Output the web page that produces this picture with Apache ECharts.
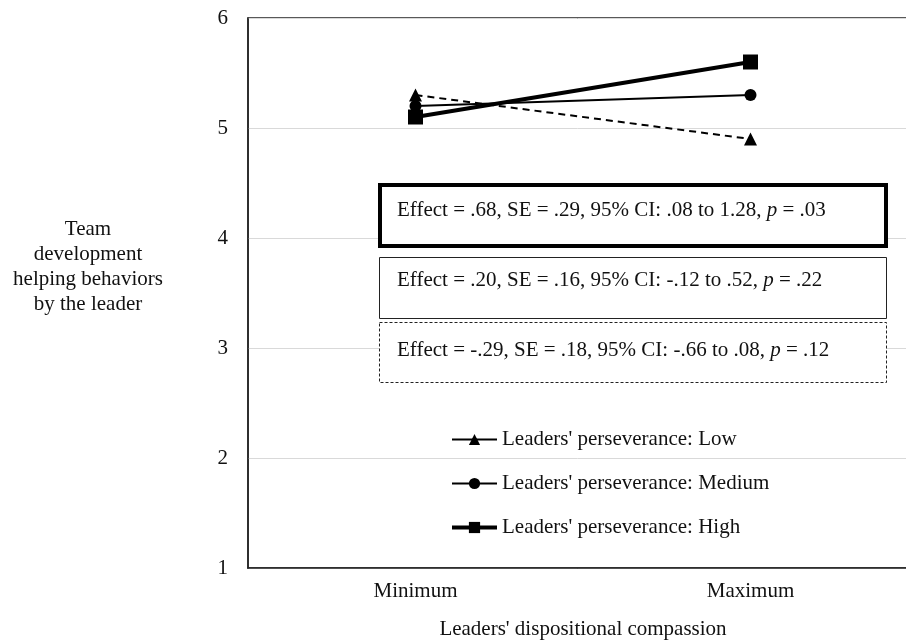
<!DOCTYPE html>
<html>
<head>
<meta charset="utf-8">
<script src="https://cdn.jsdelivr.net/npm/echarts@6/dist/echarts.min.js"></script>
<style>html,body{margin:0;padding:0;background:#fff;}#main{width:906px;height:643px;}</style>
</head>
<body>
<div id="main"></div>
<script>
const categories = ['Minimum', 'Maximum'];
const seriesNames = ["Leaders' perseverance: Low", "Leaders' perseverance: Medium", "Leaders' perseverance: High"];
const lowValues = [5.3, 4.9];
const mediumValues = [5.2, 5.3];
const highValues = [5.1, 5.6];
const yTicks = [1, 2, 3, 4, 5, 6];
const yTitleLines = ['Team', 'development', 'helping behaviors', 'by the leader'];
const effectTexts = [
  ['Effect = .68, SE = .29, 95% CI: .08 to 1.28, ', ' = .03'],
  ['Effect = .20, SE = .16, 95% CI: -.12 to .52, ', ' = .22'],
  ['Effect = -.29, SE = .18, 95% CI: -.66 to .08, ', ' = .12']
];

const FONT = '"Liberation Serif", "Times New Roman", serif';
const FS = 21;
const chart = echarts.init(document.getElementById('main'));

function boxText(t, y) {
  return {
    type: 'text', x: 397, y: y, z: 20,
    style: {
      rich: {
        n: { fontFamily: FONT, fontSize: FS, fill: '#111' },
        i: { fontFamily: FONT, fontSize: FS, fontStyle: 'italic', fill: '#111' }
      },
      text: '{n|' + t[0] + '}{i|p}{n|' + t[1] + '}',
      verticalAlign: 'middle'
    }
  };
}

const option = {
  backgroundColor: '#fff',
  animation: false,
  grid: { left: 248, top: 18, width: 670, height: 550, outerBoundsMode: 'none', containLabel: false,
          show: true, borderColor: '#222', borderWidth: 1.5, backgroundColor: 'transparent' },
  xAxis: {
    type: 'category', data: categories, boundaryGap: true,
    axisLine: { show: true, lineStyle: { color: '#222', width: 1.5 } },
    axisTick: { show: false },
    axisLabel: { fontFamily: FONT, fontSize: FS, color: '#111', margin: 13 },
    name: "Leaders' dispositional compassion", nameLocation: 'middle', nameGap: 51,
    nameTextStyle: { fontFamily: FONT, fontSize: FS, color: '#111' }
  },
  yAxis: {
    type: 'value', min: yTicks[0], max: yTicks[yTicks.length - 1], interval: 1,
    axisLine: { show: true, lineStyle: { color: '#222', width: 1.5 } },
    axisTick: { show: false },
    splitLine: { show: true, lineStyle: { color: '#d9d9d9', width: 1 } },
    axisLabel: { fontFamily: FONT, fontSize: FS, color: '#111', margin: 20 }
  },
  legend: {
    orient: 'vertical', left: 445, top: 424, itemGap: 23, itemWidth: 45, itemHeight: 14, itemTextGap: 2,
    textStyle: { fontFamily: FONT, fontSize: FS, color: '#111' },
    data: [
      { name: seriesNames[0], lineStyle: { type: 'solid', width: 2 } },
      { name: seriesNames[1], lineStyle: { type: 'solid', width: 2 } },
      { name: seriesNames[2], lineStyle: { type: 'solid', width: 4 } }
    ]
  },
  graphic: [
    { type: 'text', x: 88, y: 217, z: 20, style: { text: yTitleLines.join('\n'), align: 'center', verticalAlign: 'top', fontFamily: FONT, fontSize: 21, lineHeight: 25, fill: '#111' } },
    { type: 'rect', shape: { x: 380, y: 185, width: 506, height: 61 }, z: 15, style: { fill: '#fff', stroke: '#000', lineWidth: 4 } },
    { type: 'rect', shape: { x: 379.5, y: 257.5, width: 507, height: 61 }, z: 15, style: { fill: '#fff', stroke: '#222', lineWidth: 1 } },
    { type: 'rect', shape: { x: 379.5, y: 322.5, width: 507, height: 60 }, z: 15, style: { fill: '#fff', stroke: '#222', lineWidth: 1, lineDash: [3, 2] } },
    boxText(effectTexts[0], 210),
    boxText(effectTexts[1], 280),
    boxText(effectTexts[2], 350)
  ],
  series: [
    { name: seriesNames[0], type: 'line', data: lowValues, symbol: 'triangle', symbolSize: 13,
      lineStyle: { color: '#000', width: 2, type: [7, 5] }, itemStyle: { color: '#000' }, z: 3 },
    { name: seriesNames[1], type: 'line', data: mediumValues, symbol: 'circle', symbolSize: 12,
      lineStyle: { color: '#000', width: 2 }, itemStyle: { color: '#000' }, z: 4 },
    { name: seriesNames[2], type: 'line', data: highValues, symbol: 'rect', symbolSize: 15,
      lineStyle: { color: '#000', width: 4 }, itemStyle: { color: '#000' }, z: 5 }
  ]
};
chart.setOption(option);
</script>
</body>
</html>
